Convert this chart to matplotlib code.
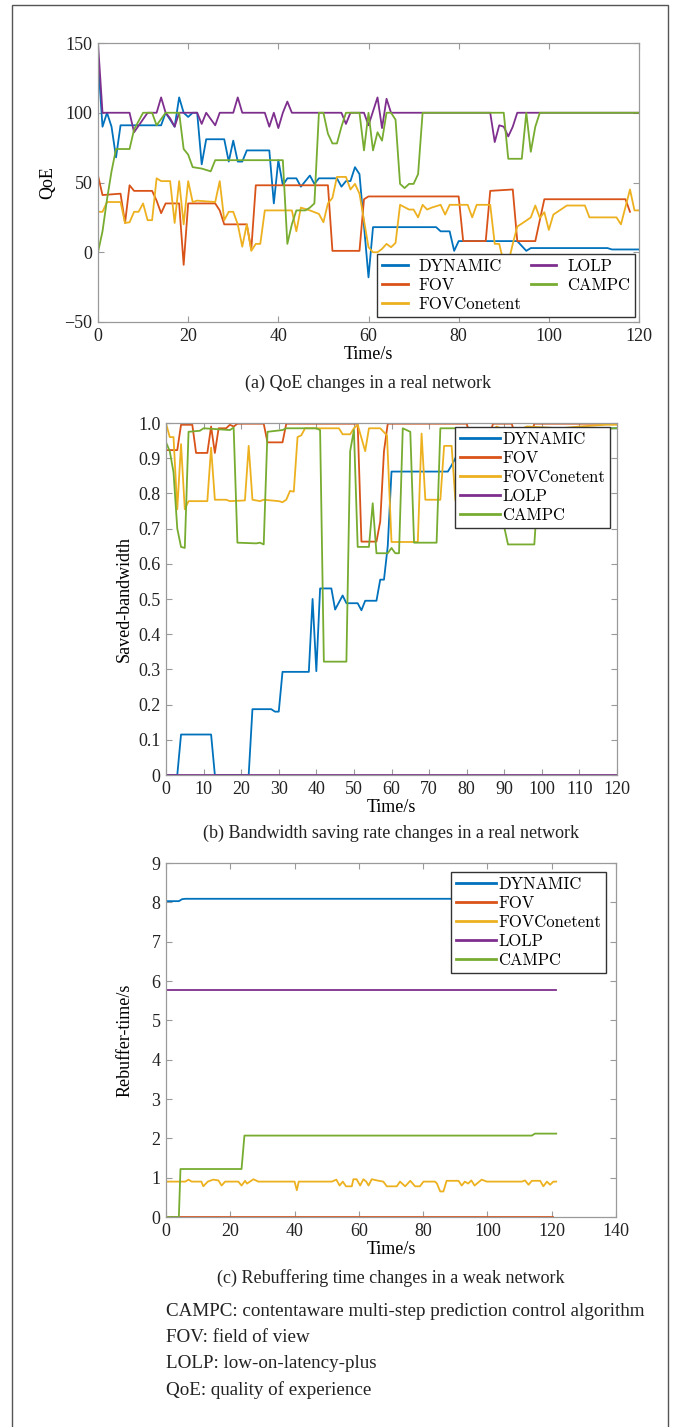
import matplotlib
matplotlib.use("Agg")
import matplotlib.pyplot as plt
from matplotlib.patches import Rectangle
import numpy as np

plt.rcParams['font.family'] = ['Liberation Serif', 'DejaVu Serif']
plt.rcParams['axes.unicode_minus'] = True

W, H = 679, 1427

# MATLAB default colours
C_DYN = '#0072BD'
C_FOV = '#D95319'
C_FVC = '#EDB120'
C_LOLP = '#7E2F8E'
C_CAMPC = '#77AC30'

names = ['DYNAMIC', 'FOV', 'FOVConetent', 'LOLP', 'CAMPC']
colors = [C_DYN, C_FOV, C_FVC, C_LOLP, C_CAMPC]

# ---------------- (a) QoE, (time, value)
qoe_dynamic = [(0, 138), (1, 90), (2, 100), (3, 90), (4, 68), (5, 91), (14, 91), (15, 100),
               (17, 90), (18, 111), (19, 100), (20, 97), (21, 100), (22, 100), (23, 63), (24, 81),
               (28, 81), (29, 65), (30, 80), (31, 65), (32, 65), (33, 73), (38, 73), (39, 35),
               (40, 66), (41, 48), (42, 53), (44, 53), (45, 47), (47, 55), (48, 49), (49, 53),
               (53, 53), (54, 47), (55, 51), (56, 51), (57, 61), (58, 56), (60, -18), (61, 18),
               (75, 18), (76, 15), (78, 15), (79, 1), (80, 8), (93, 8), (95, 1), (96, 3),
               (113, 3), (114, 2), (120, 2)]
qoe_fov = [(0, 55), (1, 41), (5, 42), (6, 21), (7, 48), (8, 44), (12, 44), (13, 37), (14, 28),
           (15, 35), (18, 35), (19, -9), (20, 35), (26, 35), (27, 30), (28, 20), (33, 20), (34, 2),
           (35, 48), (51, 48), (52, 1), (58, 1), (59, 38), (60, 40), (80, 40), (81, 8), (86, 8),
           (87, 44), (92, 45), (93, 8), (97, 8), (99, 38), (117, 38), (118, 29)]
qoe_fovcontent = [(0, 29), (1, 29), (2, 36), (5, 36), (6, 21), (7, 21.5), (8, 29), (9, 29),
                  (10, 35), (11, 23), (12, 23), (13, 53), (14, 51), (16, 51), (17, 21), (18, 51),
                  (19, 20), (20, 51), (21, 36), (22, 37), (26, 36), (27, 51), (28, 23), (29, 29),
                  (30, 29), (31, 20), (32, 4), (33, 20), (34, 1), (35, 6), (36, 6), (37, 30),
                  (41, 30), (43, 30), (44, 15), (45, 32), (47, 30), (49, 27.5), (50, 21.5),
                  (51, 35), (52, 39), (53, 54), (55, 54), (56, 45), (57, 49), (58, 42), (60, 3.6),
                  (61, 0), (62, 0), (63, 2.4), (64, 6), (65, 3.6), (66, 6.7), (67, 34), (69, 30.6),
                  (70, 30.6), (71, 25), (72, 34), (73, 30.6), (74, 32), (76, 34), (77, 27), (78, 34),
                  (82, 34), (83, 25), (84, 34), (87, 34), (88, 6), (89, 6), (90, -7.6), (91, -7.6),
                  (92, 6), (93, 18.4), (95, 22.7), (96, 25), (97, 33.5), (98, 24.6), (99, 28.7),
                  (100, 16), (101, 27), (104, 33.5), (108, 33.5), (109, 25), (115, 25), (116, 20),
                  (118, 45), (119, 30), (120, 30)]
qoe_lolp = [(0, 150), (1, 100), (7, 100), (8, 86), (11, 100), (13, 100), (14, 111), (15, 100),
            (16, 96), (17, 90), (18, 100), (22, 100), (23, 92), (24, 100), (26, 91), (27, 100),
            (30, 100), (31, 111), (32, 100), (37, 100), (38, 90), (39, 100), (40, 89), (41, 100),
            (42, 108), (43, 100), (54, 100), (55, 92), (56, 100), (59, 100), (60, 91), (62, 111),
            (63, 89), (64, 110), (65, 100), (87, 100), (88, 79), (89, 91), (90, 90), (91, 83),
            (92, 90), (93, 100), (120, 100)]
qoe_campc = [(0, 0), (1, 15), (2, 38), (3, 58), (4, 74), (7, 74), (8, 88), (10, 100), (12, 100),
             (13, 91), (15, 100), (18, 100), (19, 74), (20, 70), (21, 61), (23, 60), (25, 58),
             (26, 66), (41, 66), (42, 6), (43, 20), (44, 30), (46, 30), (47, 32), (48, 35),
             (49, 100), (50, 100), (51, 85), (52, 78), (53, 78), (54, 90), (55, 100), (58, 100),
             (59, 73), (60, 100), (61, 73), (62, 86), (63, 80), (64, 100), (65, 100), (66, 95),
             (67, 49), (68, 46), (69, 49), (70, 49), (71, 56), (72, 100), (90, 100), (91, 67),
             (94, 67), (95, 100), (96, 72), (97, 90), (98, 100), (120, 100)]

# ---------------- (b) saved bandwidth
bw_dynamic = [(0, 0), (3, 0), (4, 0.115), (12, 0.115), (13, 0), (22, 0), (23, 0.187), (28, 0.187),
              (29, 0.18), (30, 0.18), (31, 0.293), (38, 0.293), (39, 0.50), (40, 0.295), (41, 0.53),
              (44, 0.53), (45, 0.47), (47, 0.51), (48, 0.488), (51, 0.488), (52, 0.468), (53, 0.495),
              (56, 0.495), (57, 0.555), (58, 0.555), (59, 0.65), (60, 0.862), (75, 0.862),
              (76, 0.88), (77, 0.90), (78, 0.93), (80, 0.96), (90, 0.975), (100, 0.985), (120, 0.985)]
bw_fov = [(0, 0.923), (3, 0.923), (4, 0.995), (7, 0.995), (8, 0.915), (11, 0.915), (12, 0.99),
          (13, 0.915), (14, 0.985), (16, 0.985), (17, 0.995), (18, 0.99), (19, 0.998), (26, 0.998),
          (27, 0.945), (31, 0.945), (32, 0.998), (51, 0.998), (52, 0.663), (56, 0.663), (57, 0.72),
          (58, 0.92), (59, 0.998), (80, 0.998), (81, 0.96), (86, 0.96), (87, 0.998), (92, 0.998),
          (93, 0.96), (97, 0.96), (98, 0.998), (120, 0.998)]
bw_fovcontent = [(0, 0.999), (1, 0.96), (2, 0.96), (3, 0.755), (4, 0.94), (5, 0.755), (6, 0.778),
                 (11, 0.778), (12, 0.93), (13, 0.782), (16, 0.782), (17, 0.778), (21, 0.78),
                 (22, 0.935), (23, 0.782), (25, 0.778), (26, 0.782), (30, 0.778), (31, 0.775),
                 (32, 0.782), (33, 0.807), (34, 0.805), (35, 0.96), (36, 0.965), (37, 0.985),
                 (46, 0.985), (47, 0.968), (49, 0.968), (50, 0.985), (51, 0.995), (53, 0.92),
                 (54, 0.985), (57, 0.985), (58.8, 0.965), (60, 0.662), (67, 0.662), (68, 0.97),
                 (69, 0.782), (73, 0.782), (74, 0.935), (76, 0.935), (77, 0.78), (79, 0.78),
                 (80, 0.95), (85, 0.96), (88, 0.99), (92, 0.97), (96, 0.99), (105, 0.985),
                 (110, 0.99), (117, 0.995), (120, 0.995)]
bw_lolp = [(0, 0), (120, 0)]
bw_campc = [(0, 0.945), (1, 0.92), (2, 0.86), (3, 0.70), (4, 0.648), (5, 0.645), (6, 0.975),
            (9, 0.978), (10, 0.985), (17, 0.98), (18, 0.987), (19, 0.66), (24, 0.658), (25, 0.66),
            (26, 0.655), (27, 0.975), (31, 0.98), (32, 0.985), (40, 0.985), (41, 0.98), (42, 0.322),
            (48, 0.322), (49, 0.92), (50, 0.98), (51, 0.648), (54, 0.648), (55, 0.772), (56, 0.63),
            (59, 0.63), (60, 0.645), (61, 0.63), (62, 0.63), (63, 0.985), (65, 0.975), (66, 0.66),
            (72, 0.66), (73, 0.985), (84, 0.985), (86, 0.90), (91, 0.655), (98, 0.655),
            (100, 0.98), (120, 0.985)]

# ---------------- (c) rebuffer time
rb_dynamic = [(0, 8.03), (4, 8.03), (5, 8.08), (6, 8.09), (121, 8.09)]
rb_fov = [(0, 0), (120.5, 0)]
rb_fovcontent = [(0, 0.9), (6, 0.9), (7, 0.95), (8, 0.9), (11, 0.9), (11.6, 0.78), (13, 0.9),
                 (14.7, 0.95), (16.3, 0.93), (17.3, 0.8), (18.4, 0.9), (22.5, 0.9), (23.5, 0.8),
                 (24.6, 0.92), (25.2, 0.85), (27.2, 0.96), (28.7, 0.9), (40, 0.9), (40.7, 0.68),
                 (41.3, 0.9), (51.6, 0.9), (53, 0.95), (54, 0.8), (55, 0.9), (56, 0.78),
                 (57.8, 0.78), (58.3, 0.96), (59.3, 0.96), (60.4, 0.8), (61.4, 0.96), (62.3, 0.9),
                 (63, 0.8), (64, 0.96), (65.6, 0.93), (67.6, 0.9), (68.7, 0.78), (71.8, 0.78),
                 (72.8, 0.9), (74.4, 0.78), (76, 0.92), (77.5, 0.78), (79, 0.78), (80.1, 0.9),
                 (83.7, 0.9), (84.3, 0.85), (85.3, 0.65), (86.3, 0.65), (87.3, 0.92), (91, 0.92),
                 (92, 0.8), (93, 0.9), (94, 0.85), (95, 0.93), (96, 0.8), (98.2, 0.95),
                 (99.8, 0.9), (110.7, 0.9), (111.7, 0.93), (112.8, 0.82), (113.8, 0.92),
                 (116.4, 0.92), (117.4, 0.78), (118.5, 0.9), (119.5, 0.82), (120.5, 0.9),
                 (121.4, 0.9)]
rb_lolp = [(0, 5.77), (121.4, 5.77)]
rb_campc = [(0, 0), (4, 0), (4.5, 1.22), (23.5, 1.22), (24.4, 2.07), (113.8, 2.07),
            (114.8, 2.12), (121.4, 2.12)]

captions = ['(a) QoE changes in a real network',
            '(b) Bandwidth saving rate changes in a real network',
            '(c) Rebuffering time changes in a weak network']
notes = ['CAMPC: contentaware multi-step prediction control algorithm',
         'FOV: field of view',
         'LOLP: low-on-latency-plus',
         'QoE: quality of experience']


def box(l, t, r, b):
    # pixel box -> figure fraction rect
    return [l / W, 1 - b / H, (r - l) / W, (b - t) / H]


def style(ax):
    for s in ax.spines.values():
        s.set_color('#9a9a9a')
        s.set_linewidth(0.9)
    ax.tick_params(direction='in', top=True, right=True, length=4, width=0.8,
                   color='#9a9a9a', labelsize=13, labelcolor='#222222', pad=4)


def draw(ax, series):
    for s, c, n in zip(series, colors, names):
        t, v = zip(*s)
        ax.plot(t, v, color=c, lw=1.3, label=n)


def legend(ax, **kw):
    lg = ax.legend(prop={'family': 'cmr10', 'size': 12}, labelspacing=0.22, borderpad=0.3,
                   borderaxespad=0, fancybox=False, framealpha=1, edgecolor='#333333', **kw)
    lg.get_frame().set_linewidth(1.0)
    for h in lg.get_lines():
        h.set_linewidth(2.0)
    return lg


fig = plt.figure(figsize=(W / 100, H / 100), dpi=100)
fig.patches.append(Rectangle((12 / W, -0.01), 656 / W, 1 - 5 / H + 0.01, transform=fig.transFigure,
                             fill=False, edgecolor='#555555', lw=1.0))

# (a)
ax1 = fig.add_axes(box(98, 43, 639, 322))
draw(ax1, [qoe_dynamic, qoe_fov, qoe_fovcontent, qoe_lolp, qoe_campc])
ax1.set_xlim(0, 120)
ax1.set_ylim(-50, 150)
ax1.set_xticks(range(0, 121, 20))
ax1.set_yticks([-50, 0, 50, 100, 150])
style(ax1)
ax1.set_xlabel('Time/s', fontsize=13, labelpad=1)
ax1.set_ylabel('QoE', fontsize=13, labelpad=6)
legend(ax1, ncol=2, loc='lower right', bbox_to_anchor=(0.993, 0.018),
       handlelength=1.55, handletextpad=0.65, columnspacing=0.55)

# (b)
ax2 = fig.add_axes(box(166, 423, 617, 775))
draw(ax2, [bw_dynamic, bw_fov, bw_fovcontent, bw_lolp, bw_campc])
ax2.set_xlim(0, 120)
ax2.set_ylim(0, 1.0)
ax2.set_xticks(range(0, 121, 10))
yt = np.round(np.arange(0, 1.01, 0.1), 1)
ax2.set_yticks(yt)
ax2.set_yticklabels(['0'] + ['%.1f' % y for y in yt[1:]])
style(ax2)
ax2.set_xlabel('Time/s', fontsize=13, labelpad=1)
ax2.set_ylabel('Saved-bandwidth', fontsize=13, labelpad=4)
legend(ax2, loc='upper right', bbox_to_anchor=(0.985, 0.989),
       handlelength=2.4, handletextpad=0.15)

# (c)
ax3 = fig.add_axes(box(166, 863, 616, 1217))
draw(ax3, [rb_dynamic, rb_fov, rb_fovcontent, rb_lolp, rb_campc])
ax3.set_xlim(0, 140)
ax3.set_ylim(0, 9)
ax3.set_xticks(range(0, 141, 20))
ax3.set_yticks(range(0, 10))
style(ax3)
ax3.set_xlabel('Time/s', fontsize=13, labelpad=1)
ax3.set_ylabel('Rebuffer-time/s', fontsize=13, labelpad=13)
legend(ax3, loc='upper right', bbox_to_anchor=(0.978, 0.975),
       handlelength=2.4, handletextpad=0.15)

# captions
for ax, cap, y in zip([ax1, ax2, ax3], captions, [383, 833, 1278]):
    p = ax.get_position()
    fig.text((p.x0 + p.x1) / 2, 1 - y / H, cap, ha='center', va='center', fontsize=13,
             color='#222222')

for i, n in enumerate(notes):
    fig.text(166 / W, 1 - (1312 + 26 * i) / H, n, ha='left', va='center', fontsize=13.7,
             color='#222222')

fig.savefig('out.png', dpi=100)
